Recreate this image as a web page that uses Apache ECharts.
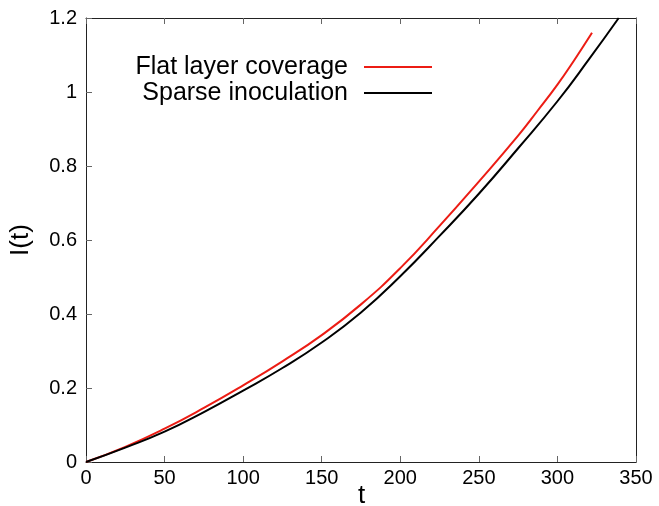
<!DOCTYPE html>
<html>
<head>
<meta charset="utf-8">
<script src="https://cdn.jsdelivr.net/npm/echarts@6/dist/echarts.min.js"></script>
<style>
  html, body { margin: 0; padding: 0; background: #fff; }
  #chart { width: 659px; height: 506px; }
</style>
</head>
<body>
<div id="chart"></div>
<script>
// Time samples and I(t) values for each seeding scenario
const seriesNames = ['Flat layer coverage', 'Sparse inoculation'];
const tFlat = [0, 25, 50, 75, 100, 125, 150, 175, 200, 225, 250, 275, 287.5, 300, 311, 322];
const iFlat = [0, 0.041, 0.090, 0.146, 0.207, 0.272, 0.343, 0.426, 0.524, 0.638, 0.758, 0.882, 0.950, 1.020, 1.088, 1.160];
const tSparse = [0, 25, 50, 75, 100, 125, 150, 175, 200, 225, 250, 275, 300, 320, 339];
const iSparse = [0, 0.039, 0.082, 0.135, 0.193, 0.254, 0.323, 0.404, 0.502, 0.611, 0.725, 0.848, 0.975, 1.088, 1.200];

const xTicks = { min: 0, max: 350, interval: 50 };
const yTicks = { min: 0, max: 1.2, interval: 0.2 };
const xTitle = 't';
const yTitle = 'I(t)';

const pairs = (ts, vs) => ts.map((t, i) => [t, vs[i]]);
const font = 'Liberation Sans, Arial, Helvetica, sans-serif';
const frame = '#222';
const tickColor = '#666';

const chart = echarts.init(document.getElementById('chart'), null, { renderer: 'canvas' });
chart.setOption({
  animation: false,
  backgroundColor: '#fff',
  grid: { left: 86, right: 23, top: 18, bottom: 44, containLabel: false, outerBoundsMode: 'none' },
  // x-axis caption, centred under the plot frame
  title: {
    text: xTitle,
    left: 358,
    top: 483,
    padding: 0,
    textStyle: { fontFamily: font, fontSize: 26, fontWeight: 'normal', color: '#000' }
  },
  legend: {
    orient: 'vertical',
    right: 227,
    top: 54,
    padding: 0,
    itemGap: 0,
    icon: 'rect',
    itemWidth: 68,
    itemHeight: 2,
    align: 'right',
    selectedMode: false,
    textStyle: {
      fontFamily: font, fontSize: 25, color: '#000',
      width: 240, align: 'right', lineHeight: 26, padding: [0, 11, 0, 0]
    },
    data: seriesNames
  },
  xAxis: [
    {
      type: 'value', position: 'bottom',
      min: xTicks.min, max: xTicks.max, interval: xTicks.interval,
      axisLine: { show: true, onZero: false, lineStyle: { color: frame, width: 1 } },
      axisTick: { show: true, inside: true, length: 6, lineStyle: { color: tickColor } },
      axisLabel: { fontFamily: font, fontSize: 20, color: '#000', margin: 6 },
      splitLine: { show: false }
    },
    {
      type: 'value', position: 'top',
      min: xTicks.min, max: xTicks.max, interval: xTicks.interval,
      axisLine: { show: true, onZero: false, lineStyle: { color: frame, width: 1 } },
      axisTick: { show: true, inside: true, length: 6, lineStyle: { color: tickColor } },
      axisLabel: { show: false },
      splitLine: { show: false }
    }
  ],
  yAxis: [
    {
      type: 'value', position: 'left',
      min: yTicks.min, max: yTicks.max, interval: yTicks.interval,
      name: yTitle, nameLocation: 'middle', nameGap: 52,
      nameTextStyle: { fontFamily: font, fontSize: 26, color: '#000' },
      axisLine: { show: true, onZero: false, lineStyle: { color: frame, width: 1 } },
      axisTick: { show: true, inside: true, length: 6, lineStyle: { color: tickColor } },
      axisLabel: { fontFamily: font, fontSize: 20, color: '#000', margin: 9 },
      splitLine: { show: false }
    },
    {
      type: 'value', position: 'right',
      min: yTicks.min, max: yTicks.max, interval: yTicks.interval,
      axisLine: { show: true, onZero: false, lineStyle: { color: frame, width: 1 } },
      axisTick: { show: false },
      axisLabel: { show: false },
      splitLine: { show: false }
    }
  ],
  series: [
    {
      name: seriesNames[0], type: 'line', smooth: 0.5, symbol: 'none',
      clip: true,
      lineStyle: { color: '#ec1c14', width: 2 },
      itemStyle: { color: '#ec1c14' },
      data: pairs(tFlat, iFlat)
    },
    {
      name: seriesNames[1], type: 'line', smooth: 0.5, symbol: 'none',
      clip: true,
      lineStyle: { color: '#000', width: 2 },
      itemStyle: { color: '#000' },
      data: pairs(tSparse, iSparse)
    }
  ]
});
</script>
</body>
</html>
